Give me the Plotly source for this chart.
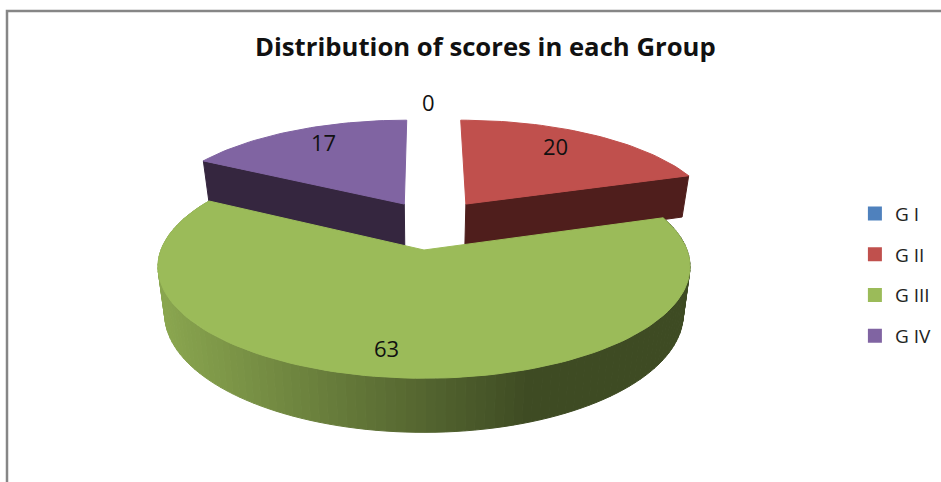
import math
import plotly.graph_objects as go

categories = ["G I", "G II", "G III", "G IV"]
values = [0, 20, 63, 17]
colors = ["#4f81bd", "#c0504d", "#9bbb59", "#8064a2"]
wall_colors = ["#2a4564", "#4f1e1c", "#3e4b23", "#35263f"]
title_text = "Distribution of scores in each Group"

# Projection of the tilted disc onto the axes
CX, CY, R, H, K, DEPTH, BOTTOM_SCALE = 424, 250, 263, 109, 0.15, 46, 0.975
# Exploded offset of each slice in disc units
offsets = [(0.02, 0.70), (0.17, 0.45), (0.0, 0.0), (-0.08, 0.45)]
label_radius = [1.0, 0.77, 0.84, 0.72]
label_nudge = [(0, 0), (-10, -3), (-14, -6), (1, -8)]


def top(u, v):
    w = 1 + K * v
    return CX + R * u / w, CY - H * v / w


def bottom(u, v):
    x, y = top(u, v)
    return CX + (x - CX) * BOTTOM_SCALE, y + DEPTH / (1 + K * v)


def rim(theta, off):
    t = math.radians(theta)
    return off[0] + math.sin(t), off[1] + math.cos(t)


def polygon(points, color, line=True):
    return go.Scatter(
        x=[p[0] for p in points] + [points[0][0]],
        y=[p[1] for p in points] + [points[0][1]],
        mode="lines", fill="toself", fillcolor=color,
        line=dict(color=color, width=1 if line else 0),
        hoverinfo="skip", showlegend=False,
    )


def mix(a, b, f):
    ca = [int(a[i:i + 2], 16) for i in (1, 3, 5)]
    cb = [int(b[i:i + 2], 16) for i in (1, 3, 5)]
    return "rgb(%d,%d,%d)" % tuple(round(p + (q - p) * f) for p, q in zip(ca, cb))


total = sum(values)
starts, ends = [], []
acc = 0
for val in values:
    starts.append(acc / total * 360)
    acc += val
    ends.append(acc / total * 360)

fig = go.Figure()

# Back slices: radial wall that faces the viewer, then the top face
for i in (1, 3):
    off = offsets[i]
    edge = ends[i] if i == 1 else starts[i]
    ru, rv = rim(edge, off)
    fig.add_trace(polygon([top(*off), top(ru, rv), bottom(ru, rv), bottom(*off)], wall_colors[i]))
    steps = 40
    pts = [top(*off)]
    for s in range(steps + 1):
        pts.append(top(*rim(starts[i] + (ends[i] - starts[i]) * s / steps, off)))
    fig.add_trace(polygon(pts, colors[i]))

# Main slice: shaded outer wall, then top face
off = offsets[2]
steps = 120
for s in range(steps):
    a = starts[2] + (ends[2] - starts[2]) * s / steps
    b = starts[2] + (ends[2] - starts[2]) * (s + 1) / steps
    pa, pb = rim(a, off), rim(b, off)
    xm = (top(*pa)[0] + top(*pb)[0]) / 2
    f = min(1, max(0, (xm - 160) / 370))
    fig.add_trace(polygon([top(*pa), top(*pb), bottom(*pb), bottom(*pa)], mix("#8aa64f", "#3e4b23", f)))
pts = [top(*off)]
for s in range(steps + 1):
    pts.append(top(*rim(starts[2] + (ends[2] - starts[2]) * s / steps, off)))
fig.add_trace(polygon(pts, colors[2]))

# Value labels
for i, val in enumerate(values):
    mid = (starts[i] + ends[i]) / 2
    t = math.radians(mid)
    lx, ly = top(offsets[i][0] + label_radius[i] * math.sin(t), offsets[i][1] + label_radius[i] * math.cos(t))
    fig.add_annotation(x=lx + label_nudge[i][0], y=ly + label_nudge[i][1], text=str(val), showarrow=False,
                       font=dict(family="Open Sans", size=22, color="#111111"))

# Legend entries
for i, name in enumerate(categories):
    fig.add_trace(go.Scatter(x=[None], y=[None], mode="markers", name=name, legendgroup=name,
                             marker=dict(symbol="square", size=14, color=colors[i])))

fig.update_layout(
    width=941, height=482, margin=dict(l=0, r=0, t=0, b=0),
    paper_bgcolor="white", plot_bgcolor="white",
    xaxis=dict(range=[0, 941], visible=False, fixedrange=True),
    yaxis=dict(range=[482, 0], visible=False, fixedrange=True),
    legend=dict(x=0.9085, y=0.596, xanchor="left", yanchor="top", tracegroupgap=13,
                font=dict(family="Open Sans", size=19, color="#222222"), bgcolor="rgba(0,0,0,0)"),
    annotations=list(fig.layout.annotations) + [
        dict(x=485, y=46, xref="x", yref="y", text="<b>%s</b>" % title_text, showarrow=False,
             font=dict(family="Open Sans", size=25.7, color="#111111"))
    ],
    shapes=[dict(type="path", path="M 7 482 L 7 11 L 941 11", xref="x", yref="y",
                 line=dict(color="#868686", width=2.5))],
)
fig.write_html("out.html", post_script="document.body.style.margin='0';",
               config={"displayModeBar": False})
